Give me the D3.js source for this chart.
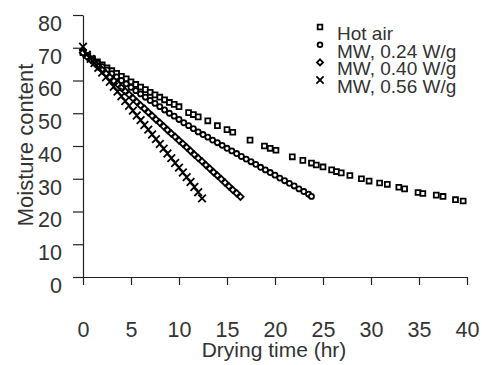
<!DOCTYPE html>
<html>
<head>
<meta charset="utf-8">
<script src="https://cdn.jsdelivr.net/npm/d3@7"></script>
<style>
  body { margin: 0; background: #fff; }
  text { font-family: "Liberation Sans", Arial, sans-serif; fill: #333; }
</style>
</head>
<body>
<div id="chart"></div>
<script>
// Drying curves
const seriesNames = ['Hot air', 'MW, 0.24 W/g', 'MW, 0.40 W/g', 'MW, 0.56 W/g'];

const hotAirTime = [0, 0.5, 1, 1.5, 2, 2.5, 3, 3.5, 4, 4.5, 5, 5.5, 6, 6.5, 7, 7.5, 8, 8.5, 9, 9.5, 10,
  11, 11.5, 12, 13, 14, 15, 15.6, 17.4, 18.9, 19.5, 20.1, 21.8, 22.9, 23.8, 24.3, 25, 25.9, 26.4, 26.9,
  27.8, 29, 29.8, 30.9, 31.7, 32.9, 33.5, 34.9, 35.4, 36.8, 37.5, 38.8, 39.6];
const hotAirMoist = [68.5, 67.6, 66.6, 65.7, 64.8, 63.9, 63.0, 62.2, 61.3, 60.5, 59.6, 58.8, 58.0, 57.2, 56.4, 55.6, 54.9, 54.1, 53.3, 52.7, 52.0,
  50.2, 49.6, 48.9, 47.7, 46.2, 45.0, 44.2, 41.8, 40.0, 39.3, 38.7, 36.7, 35.6, 34.8, 34.2, 33.6, 32.7, 32.2, 31.8,
  31.0, 30.0, 29.3, 28.7, 28.3, 27.4, 26.9, 25.8, 25.5, 25.0, 24.6, 23.6, 23.2];

const mw24Time = [0, 0.5, 1, 1.5, 2, 2.5, 3, 3.5, 4, 4.5, 5, 5.5, 6, 6.5, 7, 7.5, 8, 8.5, 9, 9.5, 10, 10.5, 11, 11.5,
  12, 12.5, 13, 13.5, 14, 14.5, 15, 15.5, 16, 16.5, 17, 17.5, 18, 18.5, 19, 19.5, 20, 20.5, 21, 21.5, 22, 22.5, 23, 23.5, 23.8];
const mw24Moist = [68.5, 67.4, 66.3, 65.3, 64.2, 63.2, 62.1, 61.1, 60.0, 59.0, 57.9, 56.9, 55.9, 54.9, 53.9, 53.0, 52.0, 51.0, 50.0, 49.1, 48.1, 47.1, 46.2, 45.3,
  44.3, 43.5, 42.7, 41.8, 41.0, 40.2, 39.3, 38.5, 37.7, 36.8, 36.0, 35.2, 34.4, 33.5, 32.7, 31.9, 31.1, 30.2, 29.4, 28.6, 27.8, 26.9, 26.1, 25.3, 24.6];

const mw40Time = [0, 0.4, 0.8, 1.2, 1.6, 2.0, 2.4, 2.8, 3.2, 3.6, 4.0, 4.4, 4.8, 5.2, 5.6, 6.0, 6.4, 6.8, 7.2, 7.6, 8.0,
  8.4, 8.8, 9.2, 9.6, 10.0, 10.4, 10.8, 11.2, 11.6, 12.0, 12.4, 12.8, 13.2, 13.6, 14.0, 14.4, 14.8, 15.2, 15.6, 16.0, 16.4];
const mw40Moist = [68.5, 67.3, 66.4, 65.3, 64.2, 63.2, 62.1, 61.0, 59.9, 58.9, 57.8, 56.7, 55.7, 54.6, 53.5, 52.4, 51.4, 50.3, 49.2, 48.1, 47.1,
  46.0, 44.9, 43.8, 42.8, 41.7, 40.7, 39.6, 38.5, 37.4, 36.3, 35.3, 34.2, 33.1, 32.0, 31.0, 29.9, 28.8, 27.7, 26.6, 25.6, 24.5];

const mw56Time = [0, 0.4, 0.8, 1.2, 1.6, 2.0, 2.4, 2.8, 3.2, 3.6, 4.0, 4.4, 4.8, 5.2, 5.6, 6.0,
  6.4, 6.8, 7.2, 7.6, 8.0, 8.4, 8.8, 9.2, 9.6, 10.0, 10.4, 10.8, 11.2, 11.6, 12.0, 12.4];
const mw56Moist = [70.3, 67.9, 66.6, 65.3, 63.9, 62.4, 61.0, 59.6, 58.1, 56.6, 55.2, 53.7, 52.3, 50.8, 49.3, 47.9,
  46.4, 45.0, 43.5, 42.1, 40.6, 39.2, 37.7, 36.3, 34.8, 33.4, 31.9, 30.5, 29.0, 27.5, 25.9, 24.0];

const xTicks = [0, 5, 10, 15, 20, 25, 30, 35, 40];
const yTicks = [0, 10, 20, 30, 40, 50, 60, 70, 80];

const width = 482, height = 365;
const svg = d3.select('#chart').append('svg')
  .attr('width', width)
  .attr('height', height);

const x = d3.scaleLinear().domain([0, 40]).range([83, 467]);
const y = d3.scaleLinear().domain([0, 80]).range([277, 15]);

// axes
const yAxis = svg.append('g')
  .attr('transform', `translate(${x(0)},0)`)
  .call(d3.axisLeft(y).tickValues(yTicks).tickSize(10).tickSizeOuter(0).tickPadding(11));
yAxis.selectAll('text').style('font-size', '21.5px').attr('dy', '0.71em');

const xAxis = svg.append('g')
  .attr('transform', `translate(0,${y(0)})`)
  .call(d3.axisBottom(x).tickValues(xTicks).tickSize(8).tickSizeOuter(0).tickPadding(37));
xAxis.selectAll('text').style('font-size', '21.5px');

svg.selectAll('.domain, .tick line').attr('stroke', '#222').attr('stroke-width', 1.2);
svg.selectAll('.tick text').attr('fill', '#333').attr('font-family', '"Liberation Sans", Arial, sans-serif');

// axis titles
svg.append('text')
  .attr('text-anchor', 'middle')
  .attr('x', 274)
  .attr('y', 357)
  .style('font-size', '21px')
  .text('Drying time (hr)');

svg.append('text')
  .attr('text-anchor', 'middle')
  .attr('transform', 'rotate(-90)')
  .attr('x', -145)
  .attr('y', 33)
  .style('font-size', '22px')
  .text('Moisture content');

// markers
const shapes = [d3.symbolSquare, d3.symbolCircle, d3.symbolDiamond2, d3.symbolX];
const sizes = [24, 20, 26, 40];
const series = [
  d3.zip(hotAirTime, hotAirMoist),
  d3.zip(mw24Time, mw24Moist),
  d3.zip(mw40Time, mw40Moist),
  d3.zip(mw56Time, mw56Moist)
];

series.forEach((pts, i) => {
  const sym = d3.symbol().type(shapes[i]).size(sizes[i]);
  svg.append('g')
    .selectAll('path')
    .data(pts)
    .join('path')
    .attr('transform', d => `translate(${x(d[0])},${y(d[1])})`)
    .attr('d', sym)
    .attr('fill', i === 3 ? 'none' : '#fff')
    .attr('stroke', '#000')
    .attr('stroke-width', 1.8);
});

// legend
const legend = svg.append('g').attr('transform', 'translate(320,27)');
seriesNames.forEach((name, i) => {
  const row = legend.append('g').attr('transform', `translate(0,${i * 17.7})`);
  row.append('path')
    .attr('d', d3.symbol().type(shapes[i]).size(sizes[i] * 0.9))
    .attr('fill', i === 3 ? 'none' : '#fff')
    .attr('stroke', '#000')
    .attr('stroke-width', 1.8);
  row.append('text')
    .attr('x', 17)
    .attr('y', 13)
    .style('font-size', '19px')
    .text(name);
});
</script>
</body>
</html>
